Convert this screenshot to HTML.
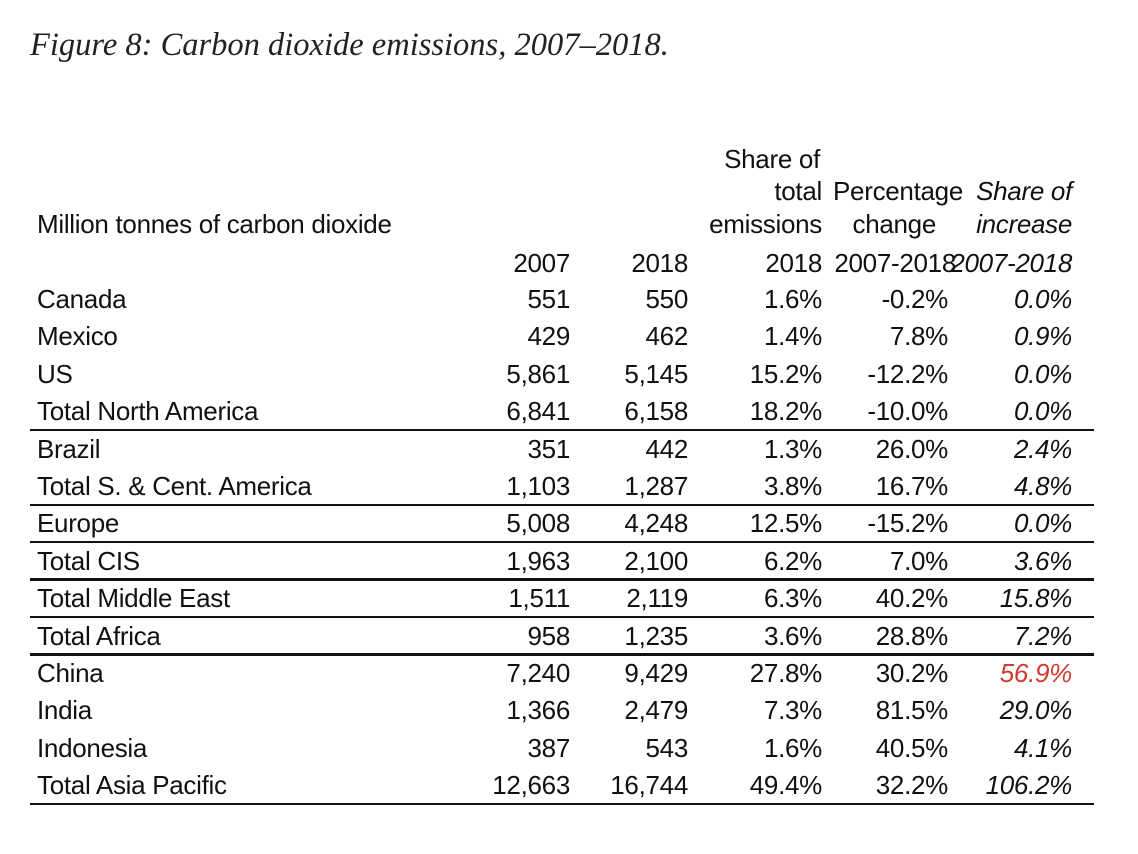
<!DOCTYPE html>
<html><head><meta charset="utf-8"><style>
body{margin:0;background:#fff;width:1138px;height:854px;position:relative;overflow:hidden;font-family:"Liberation Sans",Arial,sans-serif;color:#111}
.t{position:absolute;left:30px;top:27px;font-family:"Liberation Serif",serif;font-style:italic;font-size:32.5px;color:#222;white-space:nowrap}
.c{position:absolute;height:30px;line-height:30px;font-size:26px;white-space:nowrap;letter-spacing:-0.3px}
.r{text-align:right}
.i{font-style:italic}
.h{position:absolute;left:30px;width:1064px;height:2.5px;background:#111}
</style></head><body>
<div class="t">Figure 8: Carbon dioxide emissions, 2007–2018.</div>
<div id="g"></div>
<script>
var g=document.getElementById('g'),h='';
function cell(txt,x,y,right,ital,col){
 if(right) h+='<div class="c r'+(ital?' i':'')+'" style="left:'+(x-200)+'px;width:200px;top:'+(y-15)+'px;'+(col?'color:'+col:'')+'">'+txt+'</div>';
 else h+='<div class="c'+(ital?' i':'')+'" style="left:'+x+'px;top:'+(y-15)+'px">'+txt+'</div>';
}
var R=[570,688,822,948,1072];
cell('Share of',R[2]-2,159,1);
cell('total',R[2],191,1);cell('Percentage',R[3]+15,191,1);cell('Share of',R[4],191,1,1);
cell('Million tonnes of carbon dioxide',37,224);
cell('emissions',R[2],224,1);cell('change',R[3]-12,224,1);cell('increase',R[4],224,1,1);
cell('2007',R[0],263,1);cell('2018',R[1],263,1);cell('2018',R[2],263,1);cell('2007-2018',R[3]+8,263,1);cell('2007-2018',R[4],263,1,1);
var d=[["Canada","551","550","1.6%","-0.2%","0.0%"],["Mexico","429","462","1.4%","7.8%","0.9%"],["US","5,861","5,145","15.2%","-12.2%","0.0%"],["Total North America","6,841","6,158","18.2%","-10.0%","0.0%"],["Brazil","351","442","1.3%","26.0%","2.4%"],["Total S. &amp; Cent. America","1,103","1,287","3.8%","16.7%","4.8%"],["Europe","5,008","4,248","12.5%","-15.2%","0.0%"],["Total CIS","1,963","2,100","6.2%","7.0%","3.6%"],["Total Middle East","1,511","2,119","6.3%","40.2%","15.8%"],["Total Africa","958","1,235","3.6%","28.8%","7.2%"],["China","7,240","9,429","27.8%","30.2%","56.9%"],["India","1,366","2,479","7.3%","81.5%","29.0%"],["Indonesia","387","543","1.6%","40.5%","4.1%"],["Total Asia Pacific","12,663","16,744","49.4%","32.2%","106.2%"]];
d.forEach(function(r,i){var y=299+37.4*i;cell(r[0],37,y);for(var k=1;k<6;k++)cell(r[k],R[k-1],y,1,k==5,(i==10&&k==5)?'#d03a2e':'');});
[3,5,6,7,8,9,13].forEach(function(i){var y=299+37.4*i+18.5;h+='<div class="h" style="top:'+(y-1)+'px"></div>';});
g.innerHTML=h;
</script>
</body></html>
